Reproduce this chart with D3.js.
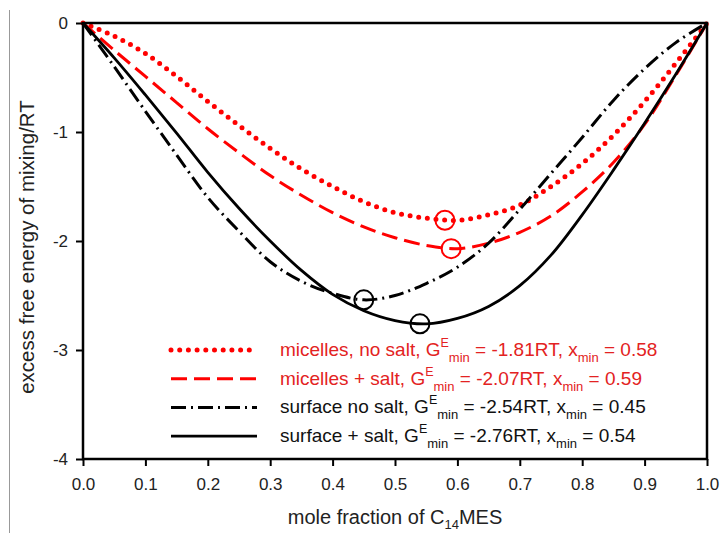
<!DOCTYPE html>
<meta charset="utf-8">
<style>
body{
	margin:0;
	background:#fff;
	font-family:Arial, "Liberation Sans", sans-serif;
}
.tick text{
	font-size:17px;
	font-family:Arial, "Liberation Sans", sans-serif;
	fill:#222;
}
</style>
<script src="https://cdn.jsdelivr.net/npm/d3@7"></script>
<div id="chart"></div>

<script>

// mole fraction grid the curves were read at
var xs = [0,0.05,0.1,0.15,0.2,0.25,0.3,0.35,0.4,0.45,0.5,0.55,0.6,0.65,0.7,0.75,0.8,0.85,0.9,0.95,1.0]

// excess free energy / RT
var micNoSalt  = [0,-0.12,-0.28,-0.49,-0.72,-0.94,-1.15,-1.34,-1.50,-1.64,-1.74,-1.79,-1.81,-1.76,-1.67,-1.50,-1.29,-1.03,-0.72,-0.37,0]
var micSalt    = [0,-0.25,-0.49,-0.73,-0.97,-1.19,-1.40,-1.58,-1.74,-1.87,-1.97,-2.04,-2.07,-2.02,-1.92,-1.77,-1.55,-1.28,-0.93,-0.48,0]
var surfNoSalt = [0,-0.40,-0.81,-1.21,-1.60,-1.91,-2.19,-2.37,-2.48,-2.54,-2.50,-2.39,-2.24,-2.02,-1.71,-1.38,-1.05,-0.71,-0.42,-0.18,0]
var surfSalt   = [0,-0.32,-0.66,-1.01,-1.37,-1.70,-2.00,-2.27,-2.49,-2.64,-2.73,-2.76,-2.71,-2.60,-2.41,-2.13,-1.76,-1.35,-0.92,-0.47,0]

var seriesNames = ["micelles, no salt","micelles + salt","surface no salt","surface + salt"]
var gMin = [-1.81,-2.07,-2.54,-2.76]
var xMin = [0.58,0.59,0.45,0.54]

var xTicks = [0,0.1,0.2,0.3,0.4,0.5,0.6,0.7,0.8,0.9,1.0]
var yTicks = [0,-1,-2,-3,-4]

var W = 721, H = 533
var plotL = 83, plotR = 707, plotT = 23, plotB = 459

var svg = d3.select("#chart").append("svg").attr("width",W).attr("height",H)

var x = d3.scaleLinear().domain([0,1]).range([plotL,plotR])
var y = d3.scaleLinear().domain([0,-4]).range([plotT,plotB])

// thin grey edge at far left
svg.append("line").attr("x1",9.5).attr("x2",9.5).attr("y1",10).attr("y2",H)
	.attr("stroke","#999").attr("stroke-width",1)

var red = "#ff0000"
var styles = [
	{color:red, width:5, dash:"0,8.7", cap:"round"},
	{color:red, width:3, dash:"16,7", cap:"butt"},
	{color:"#000", width:3, dash:"15,5,2,5", cap:"butt"},
	{color:"#000", width:2.8, dash:null, cap:"butt"}
]
var textColors = ["#e32222","#e32222","#111","#111"]
var allSeries = [micNoSalt, micSalt, surfNoSalt, surfSalt]

var line = d3.line()
	.x(function(d,i){ return x(xs[i]) })
	.y(function(d){ return y(d) })
	.curve(d3.curveCatmullRom.alpha(0.5))

allSeries.forEach(function(s,i){
	var st = styles[i]
	svg.append("path")
		.attr("d",line(s))
		.attr("fill","none")
		.attr("stroke",st.color)
		.attr("stroke-width",st.width)
		.attr("stroke-dasharray",st.dash)
		.attr("stroke-linecap",st.cap)
})

// circles at the minima
gMin.forEach(function(g,i){
	svg.append("circle")
		.attr("cx",x(xMin[i])).attr("cy",y(g)).attr("r",9.5)
		.attr("fill","none").attr("stroke",styles[i].color).attr("stroke-width",2)
})

// frame
svg.append("rect").attr("x",plotL).attr("y",plotT).attr("width",plotR-plotL).attr("height",plotB-plotT)
	.attr("fill","none").attr("stroke","#000").attr("stroke-width",2.5)

var xAxis = d3.axisBottom(x).tickValues(xTicks).tickFormat(d3.format(".1f")).tickSize(7).tickSizeOuter(0).tickPadding(12)
var gx = svg.append("g").attr("transform","translate(0,"+plotB+")").call(xAxis)
gx.select(".domain").remove()
gx.selectAll(".tick line").attr("stroke","#000").attr("stroke-width",2)

var yAxis = d3.axisLeft(y).tickValues(yTicks).tickFormat(function(d){ return String(d) }).tickSize(7).tickSizeOuter(0).tickPadding(8)
var gy = svg.append("g").attr("transform","translate("+plotL+",0)").call(yAxis)
gy.select(".domain").remove()
gy.selectAll(".tick line").attr("stroke","#000").attr("stroke-width",2)

// axis titles
var xt = svg.append("text").attr("x",(plotL+plotR)/2).attr("y",524)
	.attr("text-anchor","middle").attr("font-size",20).attr("fill","#222")
xt.append("tspan").text("mole fraction of C")
xt.append("tspan").attr("font-size",13).attr("dy",5).text("14")
xt.append("tspan").attr("dy",-5).text("MES")

svg.append("text")
	.attr("transform","translate(34,247) rotate(-90)")
	.attr("text-anchor","middle").attr("font-size",20.5).attr("fill","#222")
	.text("excess free energy of mixing/RT")

// legend
var legY0 = 356, legStep = 28.7
seriesNames.forEach(function(name,i){
	var by = legY0 + i*legStep
	var st = styles[i]
	svg.append("line")
		.attr("x1",171).attr("x2",257).attr("y1",by-6).attr("y2",by-6)
		.attr("stroke",st.color).attr("stroke-width",st.width)
		.attr("stroke-dasharray",st.dash).attr("stroke-linecap",st.cap)
	var t = svg.append("text").attr("x",280).attr("y",by).attr("font-size",19).attr("fill",textColors[i])
	t.append("tspan").text(name+", G")
	t.append("tspan").attr("font-size",12.5).attr("dy",-9).text("E")
	t.append("tspan").attr("font-size",13).attr("dy",15).text("min")
	t.append("tspan").attr("dy",-6).text(" = "+gMin[i].toFixed(2)+"RT, x")
	t.append("tspan").attr("font-size",13).attr("dy",6).text("min")
	t.append("tspan").attr("dy",-6).text(" = "+xMin[i].toFixed(2))
})

</script>
